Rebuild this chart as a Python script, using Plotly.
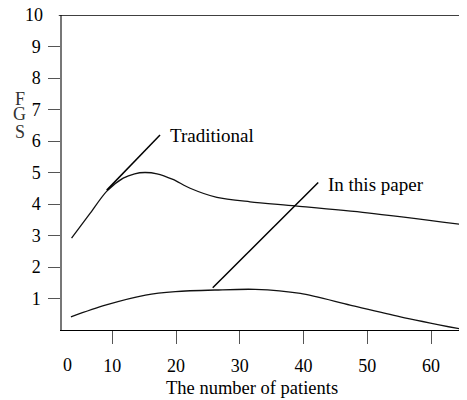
import plotly.graph_objects as go

# Data
trad_x = [3.6, 6.5, 9.1, 11.7, 13.5, 15.1, 17.0, 19.5, 22.2, 26.4, 31.6, 38.7, 50.0, 65.6]
trad_y = [2.92, 3.70, 4.40, 4.82, 4.96, 5.00, 4.96, 4.78, 4.50, 4.21, 4.07, 3.94, 3.72, 3.33]

paper_x = [3.5, 8.9, 15.2, 19.9, 26.2, 32.4, 39.5, 47.3, 55.2, 65.4]
paper_y = [0.42, 0.79, 1.11, 1.22, 1.27, 1.29, 1.16, 0.79, 0.42, 0.0]

trad_ptr_x = [9.12, 17.48]
trad_ptr_y = [4.44, 6.19]
paper_ptr_x = [25.75, 42.3]
paper_ptr_y = [1.34, 4.68]

x_ticks = [10, 20, 30, 40, 50, 60]
y_ticks = [1, 2, 3, 4, 5, 6, 7, 8, 9]
y_top = 10

FONT = "Liberation Serif"

fig = go.Figure()
fig.add_trace(go.Scatter(x=trad_x, y=trad_y, mode="lines",
                         line=dict(color="#111", width=1.3, shape="spline", smoothing=0.8),
                         cliponaxis=False, hoverinfo="skip"))
fig.add_trace(go.Scatter(x=paper_x, y=paper_y, mode="lines",
                         line=dict(color="#111", width=1.3, shape="spline", smoothing=0.8),
                         cliponaxis=False, hoverinfo="skip"))
fig.add_trace(go.Scatter(x=trad_ptr_x, y=trad_ptr_y, mode="lines",
                         line=dict(color="#000", width=1.5), hoverinfo="skip"))
fig.add_trace(go.Scatter(x=paper_ptr_x, y=paper_ptr_y, mode="lines",
                         line=dict(color="#000", width=1.5), hoverinfo="skip"))

# top horizontal line at y = 10 (with a short tick to the left)
fig.add_shape(type="line", xref="paper", yref="y", x0=-0.008, x1=1.02, y0=y_top, y1=y_top,
              line=dict(color="#000", width=1.3))
fig.add_annotation(x=-0.043, xref="paper", y=y_top, yref="y", text=str(y_top),
                   showarrow=False, xanchor="right", yanchor="middle",
                   font=dict(family=FONT, size=18, color="#000"))

fig.add_annotation(x=trad_ptr_x[1] + 1.2, y=trad_ptr_y[1], text="Traditional",
                   showarrow=False, xanchor="left", yanchor="middle",
                   font=dict(family=FONT, size=19, color="#000"))
fig.add_annotation(x=paper_ptr_x[1] + 1.2, y=paper_ptr_y[1] - 0.05, text="In this paper",
                   showarrow=False, xanchor="left", yanchor="middle",
                   font=dict(family=FONT, size=19, color="#000"))

# "0" label (no tick in reference)
fig.add_annotation(x=2.9, xref="x", y=-0.111, yref="paper", text="0",
                   showarrow=False, xanchor="center", yanchor="middle",
                   font=dict(family=FONT, size=18, color="#000"))

# x title
fig.add_annotation(x=0.469, xref="paper", y=-0.183, yref="paper",
                   text="The number of patients", showarrow=False,
                   xanchor="center", yanchor="middle",
                   font=dict(family=FONT, size=18.5, color="#000"))

# stacked y title letters
for letter, ypx in zip(["F", "G", "S"], [99, 114, 132]):
    fig.add_annotation(x=-0.104, xref="paper", y=(330 - ypx) / 315, yref="paper",
                       text=letter, showarrow=False, xanchor="center", yanchor="middle",
                       font=dict(family=FONT, size=18, color="#333"))

# the page body has an 8px margin, so the figure is shifted by 8px; compensate
fig.update_layout(
    width=467, height=400,
    margin=dict(l=54, r=8, t=7, b=78, autoexpand=False),
    paper_bgcolor="white", plot_bgcolor="white",
    showlegend=False,
    font=dict(family=FONT, size=18, color="#000"),
)
fig.update_xaxes(range=[2.1, 65.64], showgrid=False, zeroline=False, automargin=False,
                 showline=True, linecolor="#000", linewidth=1.3,
                 tickmode="array", tickvals=x_ticks, ticks="outside",
                 ticklen=13, tickcolor="#555", tickwidth=1.3,
                 ticklabelstandoff=6,
                 tickfont=dict(family=FONT, size=18, color="#000"))
fig.update_yaxes(range=[0, 10], showgrid=False, zeroline=False, automargin=False,
                 showline=True, linecolor="#777", linewidth=1.5,
                 tickmode="array", tickvals=y_ticks, ticks="outside",
                 ticklen=12, tickcolor="#555", tickwidth=1.3,
                 ticklabelstandoff=4,
                 tickfont=dict(family=FONT, size=18, color="#000"))

fig.write_html("out.html")
